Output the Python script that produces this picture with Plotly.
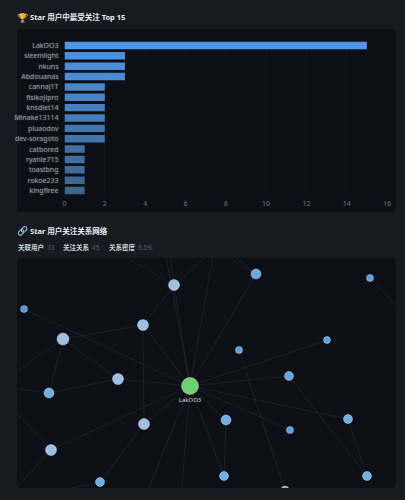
import plotly.graph_objects as go

W, H = 405, 500

users = ["LakOO3", "sleemlight", "nkuns", "Abdouanas", "cannaJ1T", "fisikoJipro", "knsdiet14",
         "Minake13114", "pluaodov", "dev-soragoto", "catbored", "ryanle715", "toastbng", "rokoe233", "kingfiree"]
followers = [15, 3, 3, 3, 2, 2, 2, 2, 2, 2, 1, 1, 1, 1, 1]
bar_colors = ["#4f97ea", "#4c91e0", "#4b8ed9", "#4a8bd4", "#4986cc", "#4883c6", "#4780c0", "#467cba",
              "#4478b2", "#4375ac", "#4171a5", "#406ea0", "#3f6b9a", "#3e6894", "#3d658e"]
x_ticks = [0, 2, 4, 6, 8, 10, 12, 14, 16]

node_names = ["LakOO3"] + [""] * 34
node_x = [190, 174, 256, 370, 24, 143, 63, 239, 327, 49, 118, 289, 144, 226, 290, 348, 51, 100, 224, 367, 285,
          214, 110, 163, 168, 225, 420, -10, -10, 0, 0, 40, 140, 180, 100]
node_y = [386, 285, 274, 278, 309, 325, 339, 350, 340, 393, 379, 376, 424, 420, 430, 419, 450, 482, 476, 476, 490,
          250, 248, 240, 240, 248, 330, 390, 385, 395, 505, 495, 510, 510, 510]
node_size = [17, 11, 10, 7, 7, 11, 12, 7, 7, 10, 11, 9, 11, 10, 7, 9, 11, 9, 9, 9, 8,
             6, 6, 6, 6, 6, 6, 6, 6, 6, 6, 6, 6, 6, 6]
node_color = ["#6fcf73", "#9cc0e4", "#6aa9e6", "#5a9ee8", "#4f94e6", "#9cc0e4", "#9cc0e4", "#5e9fe4", "#5a9ee8",
              "#70aee6", "#9cc0e4", "#62a5e6", "#9cc0e4", "#70aee6", "#5a9ee8", "#70aee6", "#9cc0e4", "#70aee6",
              "#70aee6", "#70aee6", "#a0a8c8"] + ["#5a9ee8"] * 14
edge_a = [0, 0, 0, 0, 0, 0, 0, 0, 0, 0, 0, 0, 0, 0, 0, 0, 0, 1, 1, 1, 1, 2, 2, 3, 5, 5, 6, 6, 6, 7, 9, 10, 11, 12, 13, 15,
          16, 16, 17, 17, 24]
edge_b = [1, 2, 4, 5, 8, 10, 11, 12, 13, 14, 15, 16, 18, 21, 23, 32, 33, 5, 22, 24, 21, 21, 25, 26, 6, 12, 9, 10, 27, 20,
          28, 9, 19, 17, 18, 19, 29, 30, 31, 34, 21]

panel_left, panel_right = 17, 396
bar_top, bar_bottom = 29, 212
net_top, net_bottom = 258, 488

def fx(p):
    return p / W

def fy(p):
    return 1 - p / H

def rounded(x0, y0, x1, y1, r, color):
    path = (f"M{fx(x0+r)},{fy(y0)} L{fx(x1-r)},{fy(y0)} Q{fx(x1)},{fy(y0)} {fx(x1)},{fy(y0+r)} "
            f"L{fx(x1)},{fy(y1-r)} Q{fx(x1)},{fy(y1)} {fx(x1-r)},{fy(y1)} L{fx(x0+r)},{fy(y1)} "
            f"Q{fx(x0)},{fy(y1)} {fx(x0)},{fy(y1-r)} L{fx(x0)},{fy(y0+r)} Q{fx(x0)},{fy(y0)} {fx(x0+r)},{fy(y0)} Z")
    return dict(type="path", xref="paper", yref="paper", path=path, fillcolor=color, line_width=0, layer="below")

FONT = "'Noto Sans', 'Noto Sans CJK SC', sans-serif"
fig = go.Figure()

fig.add_trace(go.Bar(x=followers, y=users, orientation="h", marker=dict(color=bar_colors, line_width=0),
                     width=0.72, xaxis="x", yaxis="y", showlegend=False))

ex, ey = [], []
for a, b in zip(edge_a, edge_b):
    ex += [node_x[a], node_x[b], None]
    ey += [node_y[a], node_y[b], None]
fig.add_trace(go.Scatter(x=ex, y=ey, mode="lines", line=dict(color="rgba(255,255,255,0.07)", width=1),
                         xaxis="x2", yaxis="y2", showlegend=False, hoverinfo="skip"))
fig.add_trace(go.Scatter(x=node_x, y=node_y, mode="markers+text", text=node_names, textposition="bottom center",
                         textfont=dict(size=6, color="#d5d9de", family=FONT),
                         marker=dict(size=node_size, color=node_color, opacity=1,
                                     line=dict(color="rgba(255,255,255,0.35)", width=1)),
                         xaxis="x2", yaxis="y2", showlegend=False))

shapes = [rounded(panel_left, bar_top, panel_right, bar_bottom, 5, "#0c0f15"),
          rounded(panel_left, net_top, panel_right, net_bottom, 5, "#0c0f15")]

def note(x, y, text, size, color, bold=False):
    return dict(xref="paper", yref="paper", x=fx(x), y=fy(y), xanchor="left", yanchor="middle", showarrow=False,
                text=f"<b>{text}</b>" if bold else text, font=dict(size=size, color=color, family=FONT))

stat_labels = ["关联用户", "关注关系", "关系密度"]
stat_values = ["33", "45", "8.5%"]
stat_label_x = [15.5, 61, 107]
stat_value_x = [45, 90, 136]
annotations = [note(15, 17, "🏆", 9, "#d9a441"), note(27.5, 17, "Star 用户中最受关注 Top 15", 7.5, "#e6edf3", True),
               note(15, 231, "🔗", 9, "#c9d1d9"), note(27.5, 231, "Star 用户关注关系网络", 7.5, "#e6edf3", True)]
for x, t in zip(stat_label_x, stat_labels):
    annotations.append(note(x, 247, t, 6.5, "#c9d1d9", True))
for x, t in zip(stat_value_x, stat_values):
    annotations.append(note(x, 247, t, 6.5, "#555c66"))

bar_y0 = 40.3
bar_y1 = 195.7
fig.update_layout(
    width=W, height=H, margin=dict(l=0, r=0, t=0, b=0, pad=0), autosize=False,
    paper_bgcolor="#161b22", plot_bgcolor="rgba(0,0,0,0)", shapes=shapes, annotations=annotations,
    xaxis=dict(domain=[fx(64.5), fx(387)], range=[0, 16], tickvals=x_ticks, showgrid=True, automargin=False,
               gridcolor="rgba(255,255,255,0.03)", zeroline=False, showline=False, anchor="y",
               tickfont=dict(size=7, color="#6e7681", family=FONT), ticks="", ticklen=0, ticklabelstandoff=2),
    yaxis=dict(domain=[fy(bar_y1), fy(bar_y0)], autorange="reversed", categoryorder="array", categoryarray=users,
               tickmode="array", tickvals=users, showgrid=False, zeroline=False, showline=False, anchor="x",
               ticklabelstandoff=5,
               tickfont=dict(size=7, color="rgba(170,176,184,0.75)", family=FONT, shadow="0 0 1.5px #8a919b"),
               ticks="", automargin=False),
    xaxis2=dict(domain=[fx(panel_left), fx(panel_right)], range=[panel_left, panel_right], visible=False,
                anchor="y2", automargin=False),
    yaxis2=dict(domain=[fy(net_bottom), fy(net_top)], range=[net_bottom, net_top], visible=False,
                anchor="x2", automargin=False),
)

fig.write_html("out.html", config={"displayModeBar": False},
               post_script="document.body.style.margin='0';document.body.style.overflow='hidden';")
